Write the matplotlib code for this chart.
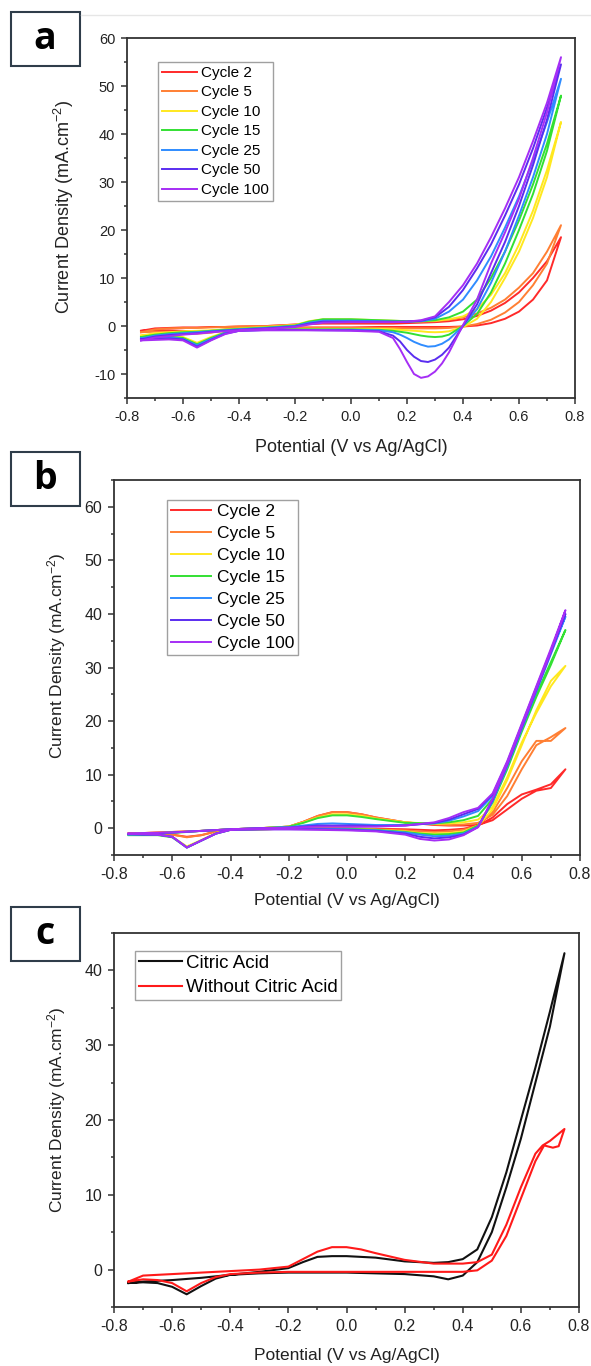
import numpy as np
import matplotlib
matplotlib.use("Agg")
import matplotlib.pyplot as plt
from matplotlib.patches import Rectangle
from matplotlib.ticker import MultipleLocator, FormatStrFormatter

plt.rcParams['font.family'] = ['Liberation Sans', 'DejaVu Sans']
plt.rcParams['axes.unicode_minus'] = False
plt.rcParams['mathtext.default'] = 'regular'

# -----------------------------
# Data
# -----------------------------
cycles = ["Cycle 2", "Cycle 5", "Cycle 10", "Cycle 15", "Cycle 25", "Cycle 50", "Cycle 100"]
cycle_colors = ['#FF2A2A', '#FF7F33', '#FFE81F', '#33E033', '#2F8CFF', '#5A2DF0', '#A52EF5']

# panel a: anodic (forward) and cathodic (reverse) sweeps
xa_fwd = [-0.75, -0.7, -0.65, -0.6, -0.55, -0.5, -0.45, -0.4, -0.3, -0.2, -0.15, -0.1, 0.0,
          0.1, 0.15, 0.2, 0.25, 0.3, 0.35, 0.4, 0.45, 0.5, 0.55, 0.6, 0.65, 0.7, 0.75]
xa_rev = [0.75, 0.7, 0.65, 0.6, 0.55, 0.5, 0.45, 0.4, 0.35, 0.325, 0.3, 0.275, 0.25, 0.225,
          0.2, 0.175, 0.15, 0.1, 0.0, -0.1, -0.2, -0.3, -0.4, -0.45, -0.5, -0.55, -0.6,
          -0.65, -0.7, -0.75]
ya_fwd = [
    [-1.0, -0.5, -0.4, -0.3, -0.3, -0.2, -0.2, -0.1, 0.0, 0.3, 0.4, 0.5, 0.5, 0.5, 0.5, 0.6, 0.7, 0.8, 1.0, 1.4, 2.1, 3.2, 4.8, 7.0, 10.0, 13.5, 18.5],
    [-1.3, -0.7, -0.5, -0.4, -0.4, -0.3, -0.2, -0.1, 0.0, 0.3, 0.6, 0.8, 0.8, 0.8, 0.8, 0.9, 0.9, 1.0, 1.3, 1.8, 2.6, 3.8, 5.5, 8.0, 11.0, 15.5, 21.0],
    [-2.0, -1.5, -1.3, -1.1, -1.0, -0.9, -0.7, -0.5, -0.2, 0.2, 1.0, 1.4, 1.4, 1.2, 1.1, 1.0, 1.0, 1.1, 1.4, 2.0, 3.5, 6.5, 11.0, 17.0, 24.0, 32.5, 42.5],
    [-2.3, -1.8, -1.5, -1.3, -1.2, -1.0, -0.8, -0.6, -0.3, 0.1, 0.9, 1.4, 1.4, 1.2, 1.1, 1.0, 1.0, 1.2, 1.8, 3.0, 5.5, 10.0, 15.5, 22.0, 29.5, 38.0, 48.0],
    [-2.6, -2.0, -1.7, -1.5, -1.3, -1.1, -0.9, -0.7, -0.4, 0.0, 0.7, 1.1, 1.1, 1.0, 0.9, 0.9, 1.0, 1.5, 3.0, 5.5, 9.5, 14.5, 20.5, 27.0, 34.5, 42.5, 51.5],
    [-2.8, -2.2, -1.9, -1.7, -1.5, -1.2, -1.0, -0.8, -0.5, -0.1, 0.5, 0.9, 0.9, 0.9, 0.9, 0.9, 1.1, 1.8, 4.0, 7.5, 12.0, 17.0, 23.0, 29.5, 37.0, 45.5, 54.5],
    [-3.0, -2.4, -2.1, -1.8, -1.6, -1.3, -1.1, -0.9, -0.6, -0.2, 0.3, 0.7, 0.8, 0.8, 0.8, 0.9, 1.2, 2.0, 5.0, 8.5, 13.0, 18.5, 24.5, 31.0, 38.5, 46.5, 56.0],
]
ya_rev = [
    [18.5, 9.5, 5.5, 3.0, 1.5, 0.6, 0.1, -0.1, -0.2, -0.2, -0.2, -0.2, -0.2, -0.2, -0.2, -0.2, -0.2, -0.2, -0.3, -0.3, -0.3, -0.4, -0.5, -0.7, -1.0, -1.2, -1.0, -0.9, -0.9, -1.0],
    [21.0, 13.0, 8.5, 5.0, 2.8, 1.3, 0.4, -0.1, -0.4, -0.45, -0.5, -0.5, -0.5, -0.5, -0.5, -0.45, -0.4, -0.4, -0.4, -0.4, -0.4, -0.5, -0.6, -0.9, -1.4, -1.6, -1.3, -1.2, -1.2, -1.3],
    [42.5, 31.0, 22.5, 15.5, 10.0, 5.0, 1.5, -0.2, -1.1, -1.25, -1.3, -1.25, -1.1, -1.0, -0.9, -0.8, -0.7, -0.6, -0.6, -0.6, -0.6, -0.7, -0.9, -1.3, -2.3, -3.5, -2.3, -2.0, -2.0, -2.0],
    [48.0, 36.5, 27.5, 20.0, 13.0, 7.0, 2.5, 0.0, -1.8, -2.2, -2.3, -2.2, -2.0, -1.7, -1.4, -1.2, -1.0, -0.8, -0.7, -0.7, -0.7, -0.7, -0.9, -1.4, -2.5, -3.8, -2.5, -2.2, -2.2, -2.3],
    [51.5, 40.0, 31.0, 23.0, 15.5, 9.0, 3.5, 0.0, -2.8, -3.7, -4.2, -4.3, -3.9, -3.3, -2.5, -1.8, -1.3, -0.9, -0.8, -0.8, -0.8, -0.8, -1.0, -1.5, -2.7, -4.0, -2.7, -2.4, -2.5, -2.6],
    [54.5, 43.0, 33.5, 25.0, 17.5, 11.0, 4.5, 0.0, -4.5, -6.0, -7.0, -7.5, -7.3, -6.4, -5.0, -3.2, -2.0, -1.1, -0.9, -0.9, -0.8, -0.8, -1.0, -1.6, -2.9, -4.3, -2.8, -2.6, -2.7, -2.8],
    [56.0, 44.5, 35.0, 26.5, 19.5, 13.0, 5.5, 0.2, -5.5, -7.8, -9.5, -10.5, -10.8, -10.0, -7.5, -4.8, -2.5, -1.2, -1.0, -0.9, -0.9, -0.9, -1.0, -1.7, -3.0, -4.5, -3.0, -2.8, -2.9, -3.0],
]

# panel b
xb_fwd = [-0.75, -0.7, -0.6, -0.5, -0.4, -0.3, -0.2, -0.15, -0.1, -0.05, 0.0, 0.05, 0.1,
          0.2, 0.3, 0.35, 0.4, 0.45, 0.5, 0.55, 0.6, 0.65, 0.7, 0.75]
xb_rev = [0.75, 0.7, 0.65, 0.6, 0.55, 0.5, 0.45, 0.4, 0.35, 0.3, 0.25, 0.2, 0.1, 0.0,
          -0.1, -0.2, -0.3, -0.4, -0.45, -0.5, -0.55, -0.6, -0.65, -0.7, -0.75]
yb_fwd = [
    [-1.0, -0.9, -0.7, -0.5, -0.2, 0.0, 0.3, 1.2, 2.3, 3.0, 3.0, 2.6, 2.0, 1.1, 0.6, 0.5, 0.5, 0.6, 1.5, 3.5, 5.5, 7.0, 7.5, 11.0],
    [-1.0, -0.9, -0.7, -0.5, -0.2, 0.0, 0.3, 1.2, 2.3, 3.0, 3.0, 2.6, 2.0, 1.1, 0.7, 0.6, 0.7, 1.0, 2.5, 6.0, 11.0, 15.5, 17.0, 18.7],
    [-1.1, -1.0, -0.8, -0.5, -0.2, 0.0, 0.3, 1.1, 2.0, 2.6, 2.6, 2.3, 1.8, 1.1, 0.8, 0.9, 1.1, 1.6, 4.0, 9.5, 16.0, 21.5, 26.5, 30.3],
    [-1.2, -1.1, -0.9, -0.5, -0.2, 0.0, 0.3, 1.0, 1.9, 2.4, 2.4, 2.1, 1.7, 1.0, 0.9, 1.1, 1.5, 2.3, 5.5, 11.5, 18.5, 25.0, 31.0, 37.0],
    [-1.1, -1.0, -0.8, -0.5, -0.2, 0.0, 0.2, 0.5, 0.8, 0.9, 0.8, 0.7, 0.6, 0.6, 0.9, 1.4, 2.2, 3.2, 6.0, 12.0, 19.0, 26.0, 33.0, 39.5],
    [-1.1, -1.0, -0.8, -0.5, -0.2, 0.0, 0.1, 0.3, 0.5, 0.5, 0.5, 0.5, 0.4, 0.5, 1.0, 1.6, 2.6, 3.6, 6.3, 12.3, 19.3, 26.3, 33.2, 40.0],
    [-1.0, -0.9, -0.8, -0.5, -0.2, 0.0, 0.1, 0.2, 0.3, 0.3, 0.3, 0.3, 0.3, 0.5, 1.1, 1.9, 3.0, 3.8, 6.5, 12.5, 19.5, 26.5, 33.5, 40.7],
]
yb_rev = [
    [11.0, 8.2, 7.2, 6.3, 4.5, 2.0, 0.5, -0.1, -0.3, -0.4, -0.3, -0.2, -0.1, 0.0, 0.0, -0.1, -0.2, -0.3, -0.6, -1.3, -1.6, -1.2, -1.0, -1.0, -1.0],
    [18.7, 16.3, 16.3, 12.5, 7.5, 3.0, 0.5, -0.3, -0.6, -0.7, -0.6, -0.4, -0.2, -0.1, -0.1, -0.1, -0.2, -0.3, -0.6, -1.3, -1.7, -1.2, -1.0, -1.0, -1.0],
    [30.3, 27.5, 22.0, 15.5, 9.0, 3.5, 0.5, -0.6, -0.9, -1.0, -0.9, -0.6, -0.3, -0.1, -0.1, -0.1, -0.2, -0.3, -0.9, -2.2, -3.4, -1.6, -1.2, -1.2, -1.2],
    [37.0, 30.5, 24.5, 18.0, 11.0, 4.8, 0.5, -0.8, -1.1, -1.2, -1.0, -0.7, -0.3, -0.1, -0.1, -0.1, -0.2, -0.3, -1.0, -2.3, -3.6, -1.7, -1.3, -1.3, -1.3],
    [39.5, 32.5, 25.5, 18.5, 11.5, 5.0, 0.3, -1.0, -1.4, -1.5, -1.2, -0.8, -0.4, -0.2, -0.1, -0.1, -0.2, -0.3, -1.0, -2.3, -3.6, -1.6, -1.2, -1.2, -1.2],
    [40.0, 32.8, 25.8, 18.8, 11.8, 5.3, 0.2, -1.2, -1.7, -1.9, -1.6, -1.0, -0.5, -0.3, -0.2, -0.2, -0.2, -0.3, -1.0, -2.3, -3.6, -1.6, -1.2, -1.2, -1.1],
    [40.7, 33.0, 26.0, 19.0, 12.0, 5.5, 0.2, -1.3, -2.1, -2.3, -2.0, -1.2, -0.6, -0.4, -0.3, -0.2, -0.2, -0.3, -1.0, -2.3, -3.6, -1.6, -1.2, -1.1, -1.0],
]

# panel c
c_labels = ["Citric Acid", "Without Citric Acid"]
c_colors = ['#111111', '#FF1A1A']
xc_ca_fwd = [-0.75, -0.7, -0.6, -0.5, -0.4, -0.3, -0.2, -0.15, -0.1, -0.05, 0.0, 0.1, 0.2,
             0.3, 0.35, 0.4, 0.45, 0.5, 0.55, 0.6, 0.65, 0.7, 0.75]
yc_ca_fwd = [-1.8, -1.6, -1.4, -1.1, -0.7, -0.3, 0.2, 1.0, 1.7, 1.8, 1.8, 1.6, 1.1,
             0.9, 1.0, 1.4, 2.7, 7.0, 13.0, 20.0, 27.0, 34.5, 42.3]
xc_ca_rev = [0.75, 0.7, 0.65, 0.6, 0.55, 0.5, 0.45, 0.4, 0.35, 0.3, 0.2, 0.1, 0.0, -0.1,
             -0.2, -0.3, -0.4, -0.45, -0.5, -0.55, -0.6, -0.65, -0.7, -0.75]
yc_ca_rev = [42.3, 32.5, 25.0, 17.5, 11.0, 5.0, 1.0, -0.8, -1.3, -0.9, -0.6, -0.5, -0.4, -0.4,
             -0.4, -0.5, -0.7, -1.2, -2.2, -3.3, -2.3, -1.8, -1.7, -1.8]
xc_wo_fwd = [-0.75, -0.7, -0.6, -0.5, -0.4, -0.3, -0.2, -0.15, -0.1, -0.05, 0.0, 0.05, 0.1,
             0.2, 0.3, 0.4, 0.45, 0.5, 0.55, 0.6, 0.65, 0.675, 0.7, 0.75]
yc_wo_fwd = [-1.6, -0.8, -0.6, -0.4, -0.2, 0.0, 0.4, 1.4, 2.4, 3.0, 3.0, 2.7, 2.2,
             1.3, 0.8, 0.8, 1.0, 2.0, 6.0, 11.0, 15.5, 16.6, 17.2, 18.8]
xc_wo_rev = [0.75, 0.73, 0.71, 0.68, 0.65, 0.6, 0.55, 0.5, 0.45, 0.4, 0.3, 0.2, 0.1, 0.0,
             -0.1, -0.2, -0.3, -0.4, -0.45, -0.5, -0.55, -0.6, -0.65, -0.7, -0.75]
yc_wo_rev = [18.8, 16.5, 16.3, 16.6, 14.5, 9.5, 4.5, 1.2, -0.1, -0.3, -0.3, -0.3, -0.3, -0.3,
             -0.3, -0.3, -0.4, -0.6, -1.0, -1.8, -2.9, -1.8, -1.4, -1.3, -1.6]

XLABEL = "Potential (V vs Ag/AgCl)"
YLABEL = r"Current Density (mA.cm$^{-2}$)"
AX_COL = '#333333'
W, H = 591, 1366


def style_axes(ax, ylim, ystep, tick_fs, label_fs, ylab_xy, xlab_y):
    ax.set_xlim(-0.8, 0.8)
    ax.set_ylim(*ylim)
    ax.xaxis.set_major_locator(MultipleLocator(0.2))
    ax.xaxis.set_minor_locator(MultipleLocator(0.1))
    ax.xaxis.set_major_formatter(FormatStrFormatter('%.1f'))
    ax.yaxis.set_major_locator(MultipleLocator(ystep))
    ax.yaxis.set_minor_locator(MultipleLocator(ystep / 2))
    for s in ax.spines.values():
        s.set_color(AX_COL)
        s.set_linewidth(1.3)
    ax.tick_params(which='both', direction='out', color=AX_COL, width=1.1,
                   top=False, right=False)
    ax.tick_params(which='major', length=4.5, pad=4, labelsize=tick_fs, labelcolor='#222222')
    ax.tick_params(which='minor', length=2.5)
    ax.set_xlabel(XLABEL, fontsize=label_fs, color='#222222')
    ax.set_ylabel(YLABEL, fontsize=label_fs, color='#222222')
    ax.yaxis.set_label_coords(*ylab_xy)
    ax.xaxis.set_label_coords(0.5, xlab_y)


def add_axes_px(left, top, right, bottom):
    return fig.add_axes([left / W, 1 - bottom / H, (right - left) / W, (bottom - top) / H])


def panel_letter(letter, top):
    box = Rectangle((10.5 / W, 1 - (top + 54) / H), 69.5 / W, 54 / H,
                    transform=fig.transFigure, fill=False, edgecolor='#2F3D4A', lw=1.5)
    fig.patches.append(box)
    fig.text(45 / W, 1 - (top + 27) / H, letter, ha='center', va='center',
             fontsize=27, fontweight='bold', family=['Open Sans', 'DejaVu Sans'])


def cycle_legend(ax, anchor, fs, spacing):
    ax.legend(loc='upper left', bbox_to_anchor=anchor, borderaxespad=0,
              fontsize=fs, frameon=True, fancybox=False, edgecolor='#A0A0A0',
              framealpha=1, handlelength=2.3, handletextpad=0.3, labelspacing=spacing,
              borderpad=0.25)


fig = plt.figure(figsize=(W / 100, H / 100), dpi=100)

# faint border line at the top of the source image
fig.add_artist(plt.Line2D([81 / W, 1.0], [1 - 15 / H, 1 - 15 / H],
                          transform=fig.transFigure, color='#E6E6E6', lw=1.0))

# (a)
ax_a = add_axes_px(127, 38, 575, 398)
for lab, col, yf, yr in zip(cycles, cycle_colors, ya_fwd, ya_rev):
    ax_a.plot(xa_fwd + xa_rev, yf + yr, color=col, lw=1.4, label=lab)
style_axes(ax_a, (-15, 60), 10, 10.5, 13, (-0.113, 0.531), -0.115)
cycle_legend(ax_a, (0.069, 0.933), 11, 0.36)
panel_letter('a', 12)

# (b)
ax_b = add_axes_px(114, 480, 580, 855)
for lab, col, yf, yr in zip(cycles, cycle_colors, yb_fwd, yb_rev):
    ax_b.plot(xb_fwd + xb_rev, yf + yr, color=col, lw=1.4, label=lab)
style_axes(ax_b, (-5, 65), 10, 11.5, 12.5, (-0.099, 0.531), -0.1)
cycle_legend(ax_b, (0.114, 0.947), 12.5, 0.39)
panel_letter('b', 452)

# (c)
ax_c = add_axes_px(114, 933, 579, 1307)
ax_c.plot(xc_ca_fwd + xc_ca_rev, yc_ca_fwd + yc_ca_rev, color=c_colors[0], lw=1.5, label=c_labels[0])
ax_c.plot(xc_wo_fwd + xc_wo_rev, yc_wo_fwd + yc_wo_rev, color=c_colors[1], lw=1.5, label=c_labels[1])
style_axes(ax_c, (-5, 45), 10, 11.5, 12.5, (-0.099, 0.528), -0.11)
ax_c.legend(loc='upper left', bbox_to_anchor=(0.045, 0.952), borderaxespad=0,
            fontsize=13.5, frameon=True, fancybox=False, edgecolor='#A0A0A0',
            framealpha=1, handlelength=2.3, handletextpad=0.2, labelspacing=0.4,
            borderpad=0.2)
panel_letter('c', 907)

fig.savefig("out.png", dpi=100)
